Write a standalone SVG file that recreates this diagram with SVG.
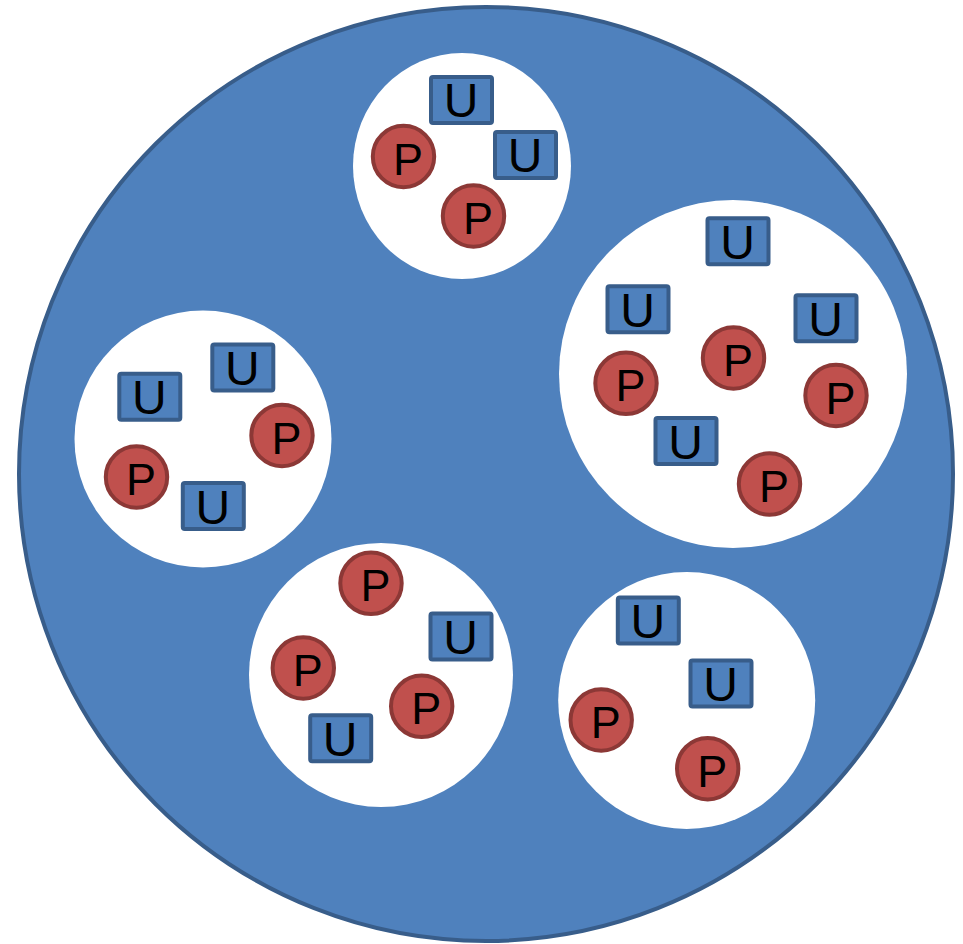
<svg xmlns="http://www.w3.org/2000/svg" width="963" height="944" viewBox="0 0 963 944">
  <style>
    .outer { fill: #4F81BD; stroke: #385D8A; stroke-width: 4; }
    .cluster { fill: #FFFFFF; }
    .u rect { fill: #4F81BD; stroke: #385D8A; stroke-width: 4; }
    .p circle { fill: #C0504D; stroke: #8C3836; stroke-width: 4; }
    text { font-family: "Liberation Sans", Arial, sans-serif; fill: #000000; text-anchor: middle; }
    .u text { font-size: 48px; }
    .p text { font-size: 45px; }
  </style>

  <g id="container">
    <circle class="outer" cx="486" cy="474" r="467"/>
  </g>

  <!-- top cluster -->
  <g id="cluster-top">
    <ellipse class="cluster" cx="462" cy="166" rx="109" ry="113"/>
    <g id="top-u1" class="u"><rect x="431" y="77" width="61" height="46" rx="2"/><text x="461" y="117">U</text></g>
    <g id="top-u2" class="u"><rect x="495" y="132" width="61" height="46" rx="2"/><text x="525" y="172">U</text></g>
    <g id="top-p1" class="p"><circle cx="403.5" cy="156.5" r="30.7"/><text x="408" y="174.5">P</text></g>
    <g id="top-p2" class="p"><circle cx="473.5" cy="216" r="30.7"/><text x="478" y="234">P</text></g>
  </g>

  <!-- right cluster -->
  <g id="cluster-right">
    <circle class="cluster" cx="733" cy="374" r="174"/>
    <g id="right-u1" class="u"><rect x="707.5" y="218.3" width="61" height="46" rx="2"/><text x="737.5" y="258.8">U</text></g>
    <g id="right-u2" class="u"><rect x="607.5" y="286.3" width="61" height="46" rx="2"/><text x="637.5" y="326.8">U</text></g>
    <g id="right-u3" class="u"><rect x="795.5" y="295.3" width="61" height="46" rx="2"/><text x="825.5" y="335.8">U</text></g>
    <g id="right-u4" class="u"><rect x="655.5" y="418" width="61" height="46" rx="2"/><text x="685.5" y="458.5">U</text></g>
    <g id="right-p1" class="p"><circle cx="626" cy="383.3" r="30.7"/><text x="630.5" y="401.3">P</text></g>
    <g id="right-p2" class="p"><circle cx="733.5" cy="358" r="30.7"/><text x="738" y="376">P</text></g>
    <g id="right-p3" class="p"><circle cx="836" cy="395.5" r="30.7"/><text x="840.5" y="413.5">P</text></g>
    <g id="right-p4" class="p"><circle cx="769.5" cy="484" r="30.7"/><text x="774" y="502">P</text></g>
  </g>

  <!-- left cluster -->
  <g id="cluster-left">
    <circle class="cluster" cx="203" cy="439" r="128.5"/>
    <g id="left-u1" class="u"><rect x="119.3" y="373.7" width="61" height="46" rx="2"/><text x="149.3" y="414.2">U</text></g>
    <g id="left-u2" class="u"><rect x="212.3" y="344.5" width="61" height="46" rx="2"/><text x="242.3" y="385">U</text></g>
    <g id="left-u3" class="u"><rect x="182.8" y="483" width="61" height="46" rx="2"/><text x="212.8" y="523.5">U</text></g>
    <g id="left-p1" class="p"><circle cx="282" cy="435.5" r="30.7"/><text x="286.5" y="453.5">P</text></g>
    <g id="left-p2" class="p"><circle cx="136.5" cy="477" r="30.7"/><text x="141" y="495">P</text></g>
  </g>

  <!-- bottom-middle cluster -->
  <g id="cluster-bottom-mid">
    <circle class="cluster" cx="381" cy="675" r="132"/>
    <g id="mid-p1" class="p"><circle cx="371" cy="583.3" r="30.7"/><text x="375.5" y="601.3">P</text></g>
    <g id="mid-p2" class="p"><circle cx="303.3" cy="668" r="30.7"/><text x="307.8" y="686">P</text></g>
    <g id="mid-p3" class="p"><circle cx="421.7" cy="706.3" r="30.7"/><text x="426.2" y="724.3">P</text></g>
    <g id="mid-u1" class="u"><rect x="430.5" y="613.5" width="61" height="46" rx="2"/><text x="460.5" y="654">U</text></g>
    <g id="mid-u2" class="u"><rect x="310.2" y="715.3" width="61" height="46" rx="2"/><text x="340.2" y="755.8">U</text></g>
  </g>

  <!-- bottom-right cluster -->
  <g id="cluster-bottom-right">
    <circle class="cluster" cx="686.7" cy="700.5" r="128.5"/>
    <g id="br-u1" class="u"><rect x="617.8" y="597.5" width="61" height="46" rx="2"/><text x="647.8" y="638">U</text></g>
    <g id="br-u2" class="u"><rect x="690.5" y="660.5" width="61" height="46" rx="2"/><text x="720.5" y="701">U</text></g>
    <g id="br-p1" class="p"><circle cx="601.2" cy="720" r="30.7"/><text x="605.7" y="738">P</text></g>
    <g id="br-p2" class="p"><circle cx="707.7" cy="768.7" r="30.7"/><text x="712.2" y="786.7">P</text></g>
  </g>
</svg>
